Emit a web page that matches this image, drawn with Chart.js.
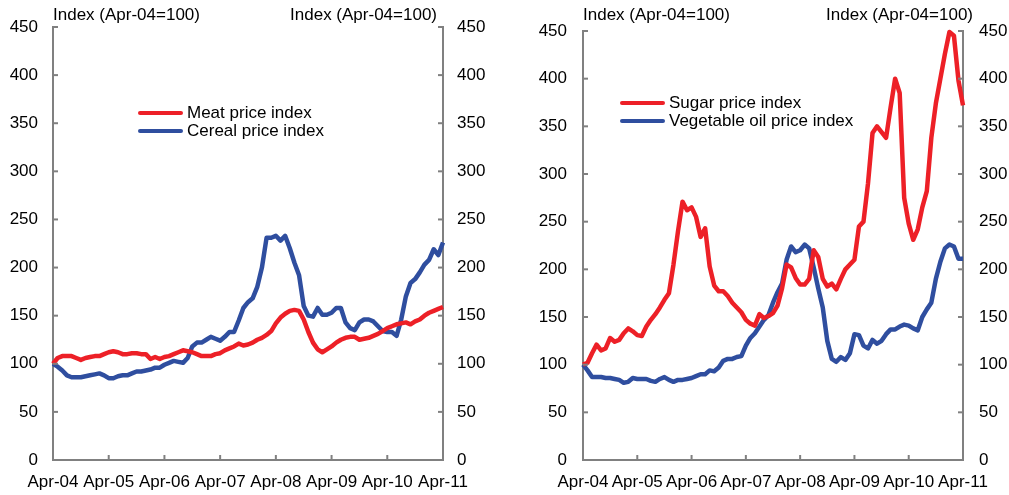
<!DOCTYPE html>
<html>
<head>
<meta charset="utf-8">
<script src="https://cdn.jsdelivr.net/npm/chart.js@4.4.0/dist/chart.umd.min.js"></script>
<style>
  body { margin: 0; background: #fff; }
  #wrap { position: relative; width: 1009px; height: 495px; font-family: "Liberation Sans", Arial, sans-serif; color: #000; }
  canvas { position: absolute; top: 0; }
  .ttl { position: absolute; font-size: 17px; line-height: 20px; white-space: nowrap; }
  .leg { position: absolute; font-size: 17px; line-height: 18px; white-space: nowrap; }
  .leg div { position: relative; padding-left: 49px; }
  .leg span { position: absolute; left: 0; top: 7px; width: 45px; height: 4px; border-radius: 2px; }
</style>
</head>
<body>
<div id="wrap">
  <canvas id="left" width="505" height="495" style="left:0"></canvas>
  <canvas id="right" width="504" height="495" style="left:505px"></canvas>

  <div class="ttl" style="left:53px; top:5px">Index (Apr-04=100)</div>
  <div class="ttl" style="right:572px; top:5px">Index (Apr-04=100)</div>
  <div class="ttl" style="left:583px; top:5px">Index (Apr-04=100)</div>
  <div class="ttl" style="right:36px; top:5px">Index (Apr-04=100)</div>

  <div class="leg" style="left:138px; top:104px">
    <div><span style="background:#ED2027"></span>Meat price index</div>
    <div><span style="background:#2F4E9F"></span>Cereal price index</div>
  </div>
  <div class="leg" style="left:620px; top:94px">
    <div><span style="background:#ED2027"></span>Sugar price index</div>
    <div><span style="background:#2F4E9F"></span>Vegetable oil price index</div>
  </div>
</div>
<script>
// monthly, Apr-04 .. Apr-11 (Apr-04 = 100)
var yearLabels = ['Apr-04', 'Apr-05', 'Apr-06', 'Apr-07', 'Apr-08', 'Apr-09', 'Apr-10', 'Apr-11'];

var meat = [100, 106, 108, 108, 108, 106, 104, 106, 107, 108, 108, 110,
    112, 113, 112, 110, 110, 111, 111, 110, 110, 105, 107, 105,
    107, 108, 110, 112, 114, 113, 112, 110, 108, 108, 108, 110,
    111, 114, 116, 118, 121, 119, 120, 122, 125, 127, 130, 134,
    142, 148, 152, 155, 156, 155, 146, 133, 122, 115, 112, 115,
    118, 122, 125, 127, 128, 128, 125, 126, 127, 129, 131, 134,
    137, 139, 141, 142, 143, 141, 144, 146, 150, 153, 155, 157, 159];

var cereal = [100, 97, 93, 88, 86, 86, 86, 87, 88, 89, 90, 88,
    85, 85, 87, 88, 88, 90, 92, 92, 93, 94, 96, 96,
    99, 101, 103, 102, 101, 106, 118, 122, 122, 125, 128, 126,
    124, 128, 133, 133, 145, 158, 164, 168, 180, 200, 231, 231,
    233, 228, 233, 220, 205, 192, 160, 150, 149, 158, 151, 151,
    153, 158, 158, 143, 137, 135, 143, 146, 146, 144, 139, 134,
    133, 133, 129, 146, 170, 184, 188, 195, 203, 208, 219, 213, 226];

var sugar = [100, 102, 112, 121, 115, 117, 128, 124, 126, 133, 138, 135,
    131, 130, 140, 147, 153, 160, 168, 175, 205, 240, 271, 262,
    265, 255, 234, 243, 203, 183, 177, 177, 172, 165, 160, 155,
    147, 143, 141, 153, 149, 151, 154, 162, 180, 205, 202, 191,
    184, 184, 190, 220, 213, 190, 182, 185, 179, 190, 200, 205,
    210, 245, 250, 290, 343, 350, 344, 338, 370, 400, 385, 275,
    248, 231, 242, 265, 282, 338, 374, 400, 426, 449, 445, 398, 372];

var vegOil = [100, 94, 87, 87, 87, 86, 86, 85, 84, 81, 82, 86,
    85, 85, 85, 83, 82, 85, 87, 84, 82, 84, 84, 85,
    86, 88, 90, 90, 94, 93, 97, 104, 106, 106, 108, 109,
    120, 128, 133, 140, 147, 152, 165, 176, 185, 210, 224, 218,
    220, 226, 222, 202, 180, 160, 125, 106, 103, 108, 105, 112,
    132, 131, 120, 117, 126, 122, 125, 132, 137, 137, 140, 142,
    141, 138, 136, 150, 158, 165, 190, 208, 222, 226, 224, 211, 211];

var red = '#ED2027';
var blue = '#2F4E9F';
var axisGrey = '#808080';

var months = [];
for (var i = 0; i < meat.length; i++) months.push(i);

// short tick marks pointing into the plot
var innerTicks = {
    id: 'innerTicks',
    afterDraw: function (chart) {
        var ctx = chart.ctx;
        var area = chart.chartArea;
        ctx.save();
        ctx.strokeStyle = axisGrey;
        ctx.lineWidth = 2;
        Object.values(chart.scales).forEach(function (scale) {
            scale.ticks.forEach(function (t, i) {
                var p = scale.getPixelForTick(i);
                ctx.beginPath();
                if (scale.axis === 'x') {
                    ctx.moveTo(p, area.bottom);
                    ctx.lineTo(p, area.bottom - 5);
                } else if (scale.position === 'left') {
                    ctx.moveTo(area.left, p);
                    ctx.lineTo(area.left + 5, p);
                } else {
                    ctx.moveTo(area.right, p);
                    ctx.lineTo(area.right - 5, p);
                }
                ctx.stroke();
            });
        });
        ctx.restore();
    }
};

function makeChart(id, series, sizes) {
    var font = { family: '"Liberation Sans", Arial, sans-serif', size: 17 };
    function yAxis(pos, w, pad) {
        return {
            position: pos,
            min: 0, max: 450,
            grid: { display: false, drawTicks: false },
            border: { display: true, color: axisGrey, width: 2 },
            ticks: { stepSize: 50, color: '#000', font: font, padding: pad },
            afterFit: function (s) { s.width = w; }
        };
    }
    return new Chart(document.getElementById(id), {
        type: 'line',
        data: {
            labels: months,
            datasets: series.map(function (s) {
                return {
                    label: s.label,
                    data: s.data,
                    borderColor: s.color,
                    borderWidth: 4.5,
                    pointRadius: 0,
                    tension: 0,
                    borderJoinStyle: 'round',
                    clip: 4,
                    yAxisID: 'y'
                };
            })
        },
        options: {
            responsive: false,
            animation: false,
            layout: { padding: { top: sizes.top, left: 0, right: 0, bottom: 0 } },
            plugins: { legend: { display: false }, tooltip: { enabled: false } },
            scales: {
                x: {
                    type: 'linear',
                    min: 0, max: 84,
                    grid: { display: false, drawTicks: false },
                    border: { display: true, color: axisGrey, width: 2 },
                    ticks: {
                        stepSize: 12, color: '#000', font: font, padding: 12,
                        maxRotation: 0, autoSkip: false,
                        callback: function (v) { return yearLabels[v / 12]; }
                    },
                    afterFit: function (s) { s.height = 35; }
                },
                y: yAxis('left', sizes.left, sizes.padL),
                y2: yAxis('right', sizes.right, sizes.padR)
            }
        },
        plugins: [innerTicks]
    });
}

makeChart('left', [
    { label: 'Meat price index', data: meat, color: red },
    { label: 'Cereal price index', data: cereal, color: blue }
], { top: 27, left: 53, right: 62, padL: 15, padR: 14 });

makeChart('right', [
    { label: 'Sugar price index', data: sugar, color: red },
    { label: 'Vegetable oil price index', data: vegOil, color: blue }
], { top: 31, left: 78, right: 46, padL: 16, padR: 16 });
</script>
</body>
</html>
